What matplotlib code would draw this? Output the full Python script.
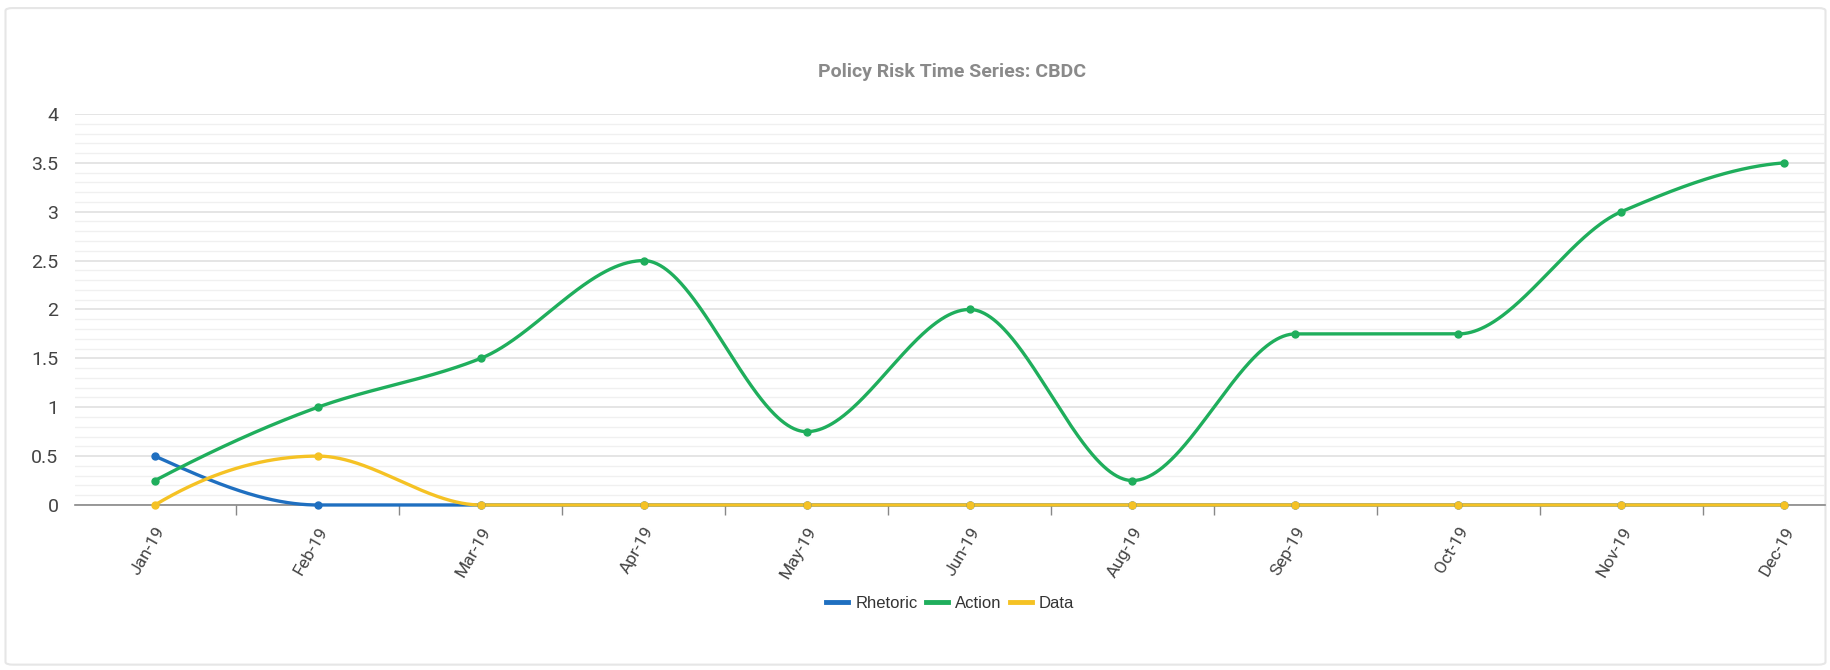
import numpy as np
import matplotlib.pyplot as plt
from matplotlib.patches import FancyBboxPatch
from matplotlib.ticker import MultipleLocator

plt.rcParams['font.family'] = ['Roboto', 'DejaVu Sans']

months = ['Jan-19', 'Feb-19', 'Mar-19', 'Apr-19', 'May-19', 'Jun-19',
          'Aug-19', 'Sep-19', 'Oct-19', 'Nov-19', 'Dec-19']
rhetoric = [0.5, 0, 0, 0, 0, 0, 0, 0, 0, 0, 0]
action = [0.25, 1, 1.5, 2.5, 0.75, 2, 0.25, 1.75, 1.75, 3, 3.5]
data = [0, 0.5, 0, 0, 0, 0, 0, 0, 0, 0, 0]

series = [('Rhetoric', rhetoric, '#1f6fc0'),
          ('Action', action, '#1fae5c'),
          ('Data', data, '#f5c224')]


# monotone cubic (Fritsch-Carlson) so the curves never overshoot
def pchip(x, y, xs):
    x = np.asarray(x, float)
    y = np.asarray(y, float)
    h = np.diff(x)
    d = np.diff(y) / h
    m = np.zeros_like(y)
    for k in range(1, len(y) - 1):
        if d[k - 1] * d[k] > 0:
            w1 = 2 * h[k] + h[k - 1]
            w2 = h[k] + 2 * h[k - 1]
            m[k] = (w1 + w2) / (w1 / d[k - 1] + w2 / d[k])
    # end points
    for k, (a, b) in ((0, (0, 1)), (-1, (-1, -2))):
        mk = ((2 * h[a] + h[b]) * d[a] - h[a] * d[b]) / (h[a] + h[b])
        if np.sign(mk) != np.sign(d[a]):
            mk = 0
        elif np.sign(d[a]) != np.sign(d[b]) and abs(mk) > abs(3 * d[a]):
            mk = 3 * d[a]
        m[k] = mk
    idx = np.clip(np.searchsorted(x, xs) - 1, 0, len(x) - 2)
    t = (xs - x[idx]) / h[idx]
    h00 = 2 * t**3 - 3 * t**2 + 1
    h10 = t**3 - 2 * t**2 + t
    h01 = -2 * t**3 + 3 * t**2
    h11 = t**3 - t**2
    return (h00 * y[idx] + h10 * h[idx] * m[idx]
            + h01 * y[idx + 1] + h11 * h[idx] * m[idx + 1])


fig = plt.figure(figsize=(18.31, 6.70), dpi=100)

# card background, kept behind the axes
card = FancyBboxPatch((0.003, 0.008), 0.994, 0.98,
                      boxstyle='round,pad=0,rounding_size=0.004',
                      transform=fig.transFigure, facecolor='white',
                      edgecolor='#e6e6e6', linewidth=1.5, zorder=-10)
fig.patches.append(card)

ax = fig.add_axes([0.041, 0.2463, 0.9557, 0.5836])
ax.set_facecolor('none')

x = np.arange(len(months))
xs = np.linspace(0, len(months) - 1, 1500)
for name, vals, color in series:
    ax.plot(xs, pchip(x, vals, xs), color=color, lw=2.4, label=name,
            clip_on=False, zorder=3)
    ax.plot(x, vals, 'o', color=color, ms=5, clip_on=False, zorder=4)

ax.set_xlim(-0.49, 10.25)
ax.set_ylim(0, 4)

ax.yaxis.set_minor_locator(MultipleLocator(0.1))
ax.set_yticks([0, 0.5, 1, 1.5, 2, 2.5, 3, 3.5, 4])
ax.set_yticklabels(['0', '0.5', '1', '1.5', '2', '2.5', '3', '3.5', '4'])
ax.grid(True, axis='y', which='major', color='#dedede', lw=1.1)
ax.grid(True, axis='y', which='minor', color='#f0f0f0', lw=1)
ax.tick_params(axis='y', which='both', length=0, labelsize=14,
               labelcolor='#444444', pad=12)

# labels sit on the categories, ticks between them
ax.set_xticks(x)
ax.set_xticklabels(months, rotation=60, ha='right', rotation_mode='anchor',
                   fontsize=12.5, color='#444444')
ax.tick_params(axis='x', which='major', length=0, pad=14)
ax.set_xticks(np.arange(len(months) - 1) + 0.5, minor=True)
ax.tick_params(axis='x', which='minor', length=7, color='#888888', width=1)

for side in ['left', 'right', 'top']:
    ax.spines[side].set_visible(False)
ax.spines['bottom'].set_color('#888888')
ax.spines['bottom'].set_linewidth(1.2)

fig.text(0.52, 0.893, 'Policy Risk Time Series: CBDC', ha='center',
         va='center', fontsize=14, fontweight='bold', color='#8a8a8a')

leg = fig.legend(loc='center', bbox_to_anchor=(0.519, 0.1), ncol=3,
                 frameon=False, handlelength=1.3, handletextpad=0.45,
                 columnspacing=0.5,
                 prop={'family': ['Liberation Sans'], 'size': 12})
for line in leg.get_lines():
    line.set_linewidth(3.5)
for t in leg.get_texts():
    t.set_color('#333333')

fig.savefig('out.png', dpi=100)
